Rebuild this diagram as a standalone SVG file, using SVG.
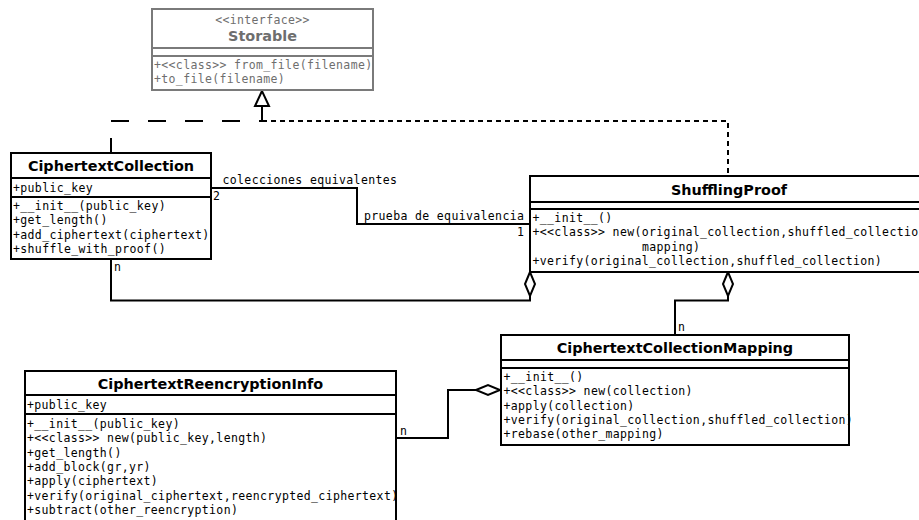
<svg xmlns="http://www.w3.org/2000/svg" width="919" height="520" viewBox="0 0 919 520">
<style>
.box{fill:#fff;stroke:#000;stroke-width:2}
.sep{stroke:#000;stroke-width:2}
.title{font-family:"DejaVu Sans","Liberation Sans",sans-serif;font-weight:bold;font-size:14.4px;text-anchor:middle;fill:#000}
.m{font-family:"DejaVu Sans Mono","Liberation Mono",monospace;font-size:11.5px;letter-spacing:0.36px;fill:#000}
.gray .box,.gray .sep{stroke:#7a7a7a}
.gray text{fill:#6e6e6e}
.line{fill:none;stroke:#000;stroke-width:2}
.dia{fill:#fff;stroke:#000;stroke-width:2}
</style>
<rect width="919" height="520" fill="#fff"/>
<g id="connectors">
  <path class="line" d="M111,153 V121 H262" stroke-dasharray="15 17 18 19 18 19 18 19 18 19 18 19"/>
  <path class="line" d="M262,121 H728 V176" stroke-dasharray="5 4"/>
  <line class="line" x1="262" y1="106" x2="262" y2="121"/>
  <polygon class="dia" points="262,91 255,106 269,106"/>
  <polyline class="line" points="211,188 357,188 357,224 530,224"/>
  <text class="m" x="222.5" y="184">colecciones equivalentes</text>
  <text class="m" x="213" y="199.5">2</text>
  <text class="m" x="364" y="220">prueba de equivalencia</text>
  <text class="m" x="517" y="235.5">1</text>
  <path class="line" d="M111,259 V300.5 H530 V296"/>
  <polygon class="dia" points="530,272 525,284 530,296 535,284"/>
  <text class="m" x="114" y="271">n</text>
  <path class="line" d="M728,296 V300.5 H675 V335"/>
  <polygon class="dia" points="728,272 723,284 728,296 733,284"/>
  <text class="m" x="678" y="331">n</text>
  <path class="line" d="M396,438 H448 V390 H476"/>
  <polygon class="dia" points="476,390 488,385 500,390 488,395"/>
  <text class="m" x="400" y="435">n</text>
</g>
<g id="Storable" class="gray">
  <rect class="box" x="152" y="9" width="221" height="81"/>
  <line class="sep" x1="152" y1="48" x2="373" y2="48"/>
  <line class="sep" x1="152" y1="56" x2="373" y2="56"/>
  <text class="m" x="262.5" y="24" text-anchor="middle">&lt;&lt;interface&gt;&gt;</text>
  <text class="title" x="262.5" y="41">Storable</text>
  <text class="m" x="154" y="69">+&lt;&lt;class&gt;&gt; from_file(filename)</text>
  <text class="m" x="154" y="83.3">+to_file(filename)</text>
</g>
<g id="CiphertextCollection">
  <rect class="box" x="11" y="153" width="200" height="106"/>
  <line class="sep" x1="11" y1="178" x2="211" y2="178"/>
  <line class="sep" x1="11" y1="197" x2="211" y2="197"/>
  <text class="title" x="111" y="171">CiphertextCollection</text>
  <text class="m" x="13" y="191.5">+public_key</text>
  <text class="m" x="13" y="210">+__init__(public_key)</text>
  <text class="m" x="13" y="224.3">+get_length()</text>
  <text class="m" x="13" y="238.6">+add_ciphertext(ciphertext)</text>
  <text class="m" x="13" y="252.9">+shuffle_with_proof()</text>
</g>
<g id="ShufflingProof">
  <rect class="box" x="530" y="176" width="398" height="96"/>
  <line class="sep" x1="530" y1="202" x2="928" y2="202"/>
  <line class="sep" x1="530" y1="209" x2="928" y2="209"/>
  <text class="title" x="729" y="194.5">ShufflingProof</text>
  <text class="m" x="532.5" y="222">+__init__()</text>
  <text class="m" x="532.5" y="236.3">+&lt;&lt;class&gt;&gt; new(original_collection,shuffled_collection,</text>
  <text class="m" x="642" y="250.6">mapping)</text>
  <text class="m" x="532.5" y="264.9">+verify(original_collection,shuffled_collection)</text>
</g>
<g id="CiphertextCollectionMapping">
  <rect class="box" x="501" y="335" width="348" height="110"/>
  <line class="sep" x1="501" y1="360" x2="849" y2="360"/>
  <line class="sep" x1="501" y1="368" x2="849" y2="368"/>
  <text class="title" x="675" y="353">CiphertextCollectionMapping</text>
  <text class="m" x="503.5" y="381">+__init__()</text>
  <text class="m" x="503.5" y="395.3">+&lt;&lt;class&gt;&gt; new(collection)</text>
  <text class="m" x="503.5" y="409.6">+apply(collection)</text>
  <text class="m" x="503.5" y="423.9">+verify(original_collection,shuffled_collection)</text>
  <text class="m" x="503.5" y="438.2">+rebase(other_mapping)</text>
</g>
<g id="CiphertextReencryptionInfo">
  <rect class="box" x="25" y="371" width="371" height="160"/>
  <line class="sep" x1="25" y1="395" x2="396" y2="395"/>
  <line class="sep" x1="25" y1="414" x2="396" y2="414"/>
  <text class="title" x="210.5" y="388.5">CiphertextReencryptionInfo</text>
  <text class="m" x="27" y="409">+public_key</text>
  <text class="m" x="27" y="428">+__init__(public_key)</text>
  <text class="m" x="27" y="442.3">+&lt;&lt;class&gt;&gt; new(public_key,length)</text>
  <text class="m" x="27" y="456.6">+get_length()</text>
  <text class="m" x="27" y="470.9">+add_block(gr,yr)</text>
  <text class="m" x="27" y="485.2">+apply(ciphertext)</text>
  <text class="m" x="27" y="499.5">+verify(original_ciphertext,reencrypted_ciphertext)</text>
  <text class="m" x="27" y="513.8">+subtract(other_reencryption)</text>
</g>
</svg>
